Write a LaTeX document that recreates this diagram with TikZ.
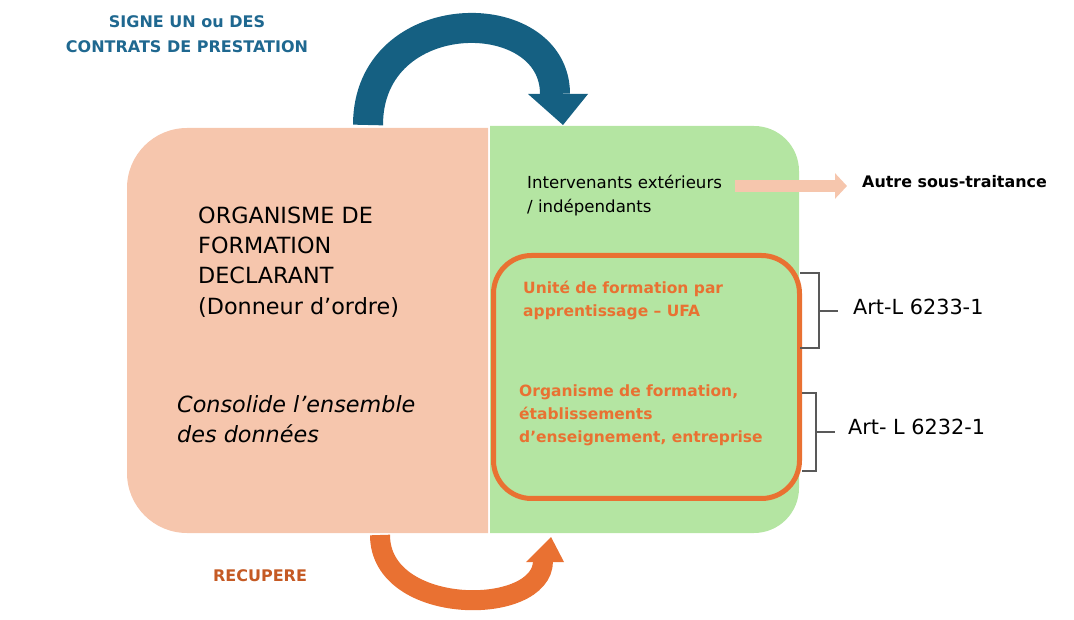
\documentclass[tikz,border=0pt]{standalone}
\usepackage{fontspec}
\setmainfont{DejaVu Sans}
\usetikzlibrary{arrows.meta,positioning}

\definecolor{peach}{HTML}{F6C6AD}
\definecolor{leaf}{HTML}{B4E5A2}
\definecolor{ufaorange}{HTML}{E97132}
\definecolor{recorange}{HTML}{C55A24}
\definecolor{petrol}{HTML}{156082}
\definecolor{headblue}{HTML}{1F6890}
\definecolor{brackgray}{HTML}{595959}

\tikzset{
  bigtext/.style={anchor=base west, inner sep=0pt, align=left, font=\fontsize{22.3}{30.3}\selectfont},
  smalltext/.style={anchor=base west, inner sep=0pt, align=left, font=\fontsize{16.6}{24}\selectfont},
  orangetext/.style={anchor=base west, inner sep=0pt, align=left, text=ufaorange, font=\bfseries\fontsize{15.5}{23.4}\selectfont},
  headtext/.style={anchor=base, inner sep=0pt, align=center, font=\bfseries\fontsize{16}{25}\selectfont},
  arttext/.style={anchor=base west, inner sep=0pt, font=\fontsize{20.8}{25}\selectfont},
  bracket/.style={draw=brackgray, line width=1.1pt},
}

\begin{document}
\begin{tikzpicture}[x=1pt, y=1pt]
\useasboundingbox (0,0) rectangle (1074,619);
%Left box
\fill[peach] (488,491) -- (187,491) arc[start angle=90,end angle=180,radius=60pt] -- (127,146) arc[start angle=180,end angle=270,radius=60pt] -- (488,86) -- cycle;
%Right box
\fill[leaf] (490,493) -- (754,493) arc[start angle=90,end angle=0,radius=45pt] -- (799,131) arc[start angle=0,end angle=-90,radius=45pt] -- (490,86) -- cycle;
\node[draw=ufaorange, line width=5pt, rounded corners=38pt, minimum width=306pt, minimum height=243pt, inner sep=0pt] (ufa) at (646.5,242) {};

%Texts (base = last line)
\node[bigtext] (odf) at (198,304.8) {ORGANISME DE\\FORMATION\\DECLARANT\\(Donneur d’ordre)};
\node[bigtext, font=\itshape\fontsize{22.3}{30}\selectfont] (conso) at (177,176) {Consolide l’ensemble\\des données};
\node[smalltext] (intv) at (527,406) {Intervenants extérieurs\\/ indépendants};
\node[anchor=base west, inner sep=0pt, font=\bfseries\fontsize{15.9}{20}\selectfont] (autre) at (862,431.5) {Autre sous-traitance};
\node[orangetext] (ufatxt) at (523,302) {Unité de formation par\\apprentissage – UFA};
\node[orangetext] (oftxt) at (519,176) {Organisme de formation,\\établissements\\d’enseignement, entreprise};
\node[arttext] (art1) at (853,304) {Art-L 6233-1};
\node[arttext] (art2) at (848,184) {Art- L 6232-1};
\node[headtext, text=headblue] (signe) at (187,566) {SIGNE UN ou DES\\CONTRATS DE PRESTATION};
\node[headtext, text=recorange] (recup) at (260,38) {RECUPERE};

%Signe arrow
\coordinate (sigA) at (368,494);
\coordinate (sigB) at (555,525);
\draw[petrol, line width=30pt] (sigA) .. controls (368,617.7) and (555,617.7) .. (sigB);
\fill[petrol] (sigB) ++(-27,0) -- ++(60,0) -- ++(-25,-31) -- cycle;

%Recupere arrow
\coordinate (recA) at (380,84);
\coordinate (recB) at (543,58);
\draw[ufaorange, line width=20pt] (recA) .. controls (380,2) and (543,2) .. (recB);
\fill[ufaorange] (recB) ++(-17,-1) -- ++(38,0) -- ++(-13,25) -- cycle;

%Sous-traitance arrow
\coordinate (subA) at (735,433);
\draw[peach, line width=12pt, -{Triangle[length=12pt,width=25pt]}, shorten >=15pt] (subA) -- (subA -| autre.west);

%Brackets
\coordinate (b1) at (819,308);
\coordinate (b2) at (816,187);
\draw[bracket] (800,346) -| (819,271) -- (800,271);
\draw[bracket, shorten >=15pt] (b1) -- (b1 -| art1.west);
\draw[bracket] (802,226) -| (816,148) -- (802,148);
\draw[bracket, shorten >=13pt] (b2) -- (b2 -| art2.west);
\end{tikzpicture}
\end{document}
